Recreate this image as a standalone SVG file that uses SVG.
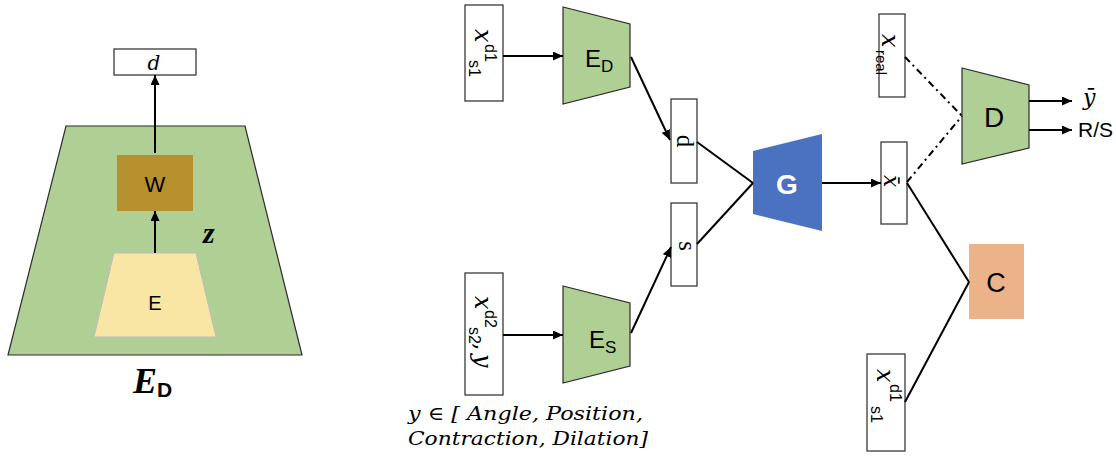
<svg xmlns="http://www.w3.org/2000/svg" width="1116" height="457" viewBox="0 0 1116 457">
  <style>
    .box { fill: #ffffff; stroke: #3a3a3a; stroke-width: 1.3; }
    .green { fill: #afcf95; stroke: #2b2b2b; stroke-width: 1.2; }
    .sans { font-family: "Liberation Sans", Arial, sans-serif; fill: #000; }
    .math { font-family: "DejaVu Serif", "Liberation Serif", serif; font-style: italic; fill: #000; }
    .sub { font-family: "Liberation Sans", Arial, sans-serif; font-style: normal; }
    .wire { stroke: #000; stroke-width: 2; fill: none; }
    .dashdot { stroke: #000; stroke-width: 2; fill: none; stroke-dasharray: 7 4 2 4; }
  </style>
  <defs>
    <marker id="arrow" markerUnits="userSpaceOnUse" markerWidth="10" markerHeight="9" refX="10" refY="4.5" orient="auto">
      <path d="M0,0 L10,4.5 L0,9 z" fill="#000"/>
    </marker>
  </defs>

  <rect width="1116" height="457" fill="#ffffff"/>

  <!-- Left: inner structure of the encoder E_D -->
  <g id="encoder-detail">
    <polygon points="66,126 245,126 302,355 8,355" class="green"/>
    <rect x="117" y="155" width="76" height="56" fill="#b8912f"/>
    <text x="155" y="192" text-anchor="middle" class="sans" font-size="22">W</text>
    <polygon points="114,253 196,253 216,337 94,337" fill="#fae6a4" stroke="#bdbdbd" stroke-width="1"/>
    <text x="155" y="310" text-anchor="middle" class="sans" font-size="20">E</text>
    <text x="203" y="243" font-family="Liberation Serif, serif" font-style="italic" font-weight="bold" font-size="30">z</text>
    <text x="133" y="393" font-family="Liberation Serif, serif" font-style="italic" font-weight="bold" font-size="36">E<tspan class="sans" font-style="normal" font-size="21" dy="4">D</tspan></text>
  </g>
  <g id="d-out">
    <rect x="114" y="49" width="82" height="26" class="box"/>
    <text x="154" y="70" text-anchor="middle" class="math" font-size="20">d</text>
  </g>

  <!-- Right: training pipeline -->
  <g id="x-s1-d1">
    <rect x="465" y="5" width="38" height="96" class="box"/>
    <text transform="translate(484,0) rotate(90)" class="math" font-size="24"><tspan x="29" y="9">x</tspan><tspan class="sub" font-size="16" x="44" y="-1">d1</tspan><tspan class="sub" font-size="16" x="60" y="15">s1</tspan></text>
  </g>
  <g id="x-s2-d2-y">
    <rect x="465" y="273" width="38" height="122" class="box"/>
    <text transform="translate(484,0) rotate(90)" class="math" font-size="24"><tspan x="296" y="9">x</tspan><tspan class="sub" font-size="16" x="310" y="-1">d2</tspan><tspan class="sub" font-size="16" x="327" y="15">s2</tspan><tspan x="343" y="9" font-style="normal">,</tspan><tspan x="354" y="9">y</tspan></text>
  </g>
  <g id="label-y">
    <text x="408" y="420" class="math" font-size="19" textLength="235" lengthAdjust="spacingAndGlyphs">y ∈ [ Angle, Position,</text>
    <text x="408" y="445" class="math" font-size="19" textLength="240" lengthAdjust="spacingAndGlyphs">Contraction, Dilation]</text>
  </g>
  <g id="enc-d">
    <polygon points="563,7 630,24 630,87 563,104" class="green"/>
    <text x="585" y="67" class="sans" font-size="24">E<tspan font-size="17" dy="5">D</tspan></text>
  </g>
  <g id="enc-s">
    <polygon points="563,286 630,303 630,366 563,383" class="green"/>
    <text x="589" y="348" class="sans" font-size="24">E<tspan font-size="17" dy="5">S</tspan></text>
  </g>
  <g id="d-code">
    <rect x="671" y="99" width="26" height="84" class="box"/>
    <text transform="translate(684,141) rotate(90)" text-anchor="middle" font-family="Liberation Serif, serif" font-size="25" y="7">d</text>
  </g>
  <g id="s-code">
    <rect x="671" y="203" width="26" height="83" class="box"/>
    <text transform="translate(684,246) rotate(90)" text-anchor="middle" font-family="Liberation Serif, serif" font-size="25" y="5">s</text>
  </g>
  <g id="generator">
    <polygon points="753,151 822,134 822,231 753,214" fill="#4a72c0"/>
    <text x="787" y="194" text-anchor="middle" font-family="Liberation Sans, Arial, sans-serif" font-weight="bold" font-size="28" fill="#ffffff">G</text>
  </g>
  <g id="x-bar">
    <rect x="881" y="142" width="26" height="82" class="box"/>
    <text transform="translate(894,0) rotate(90)" class="math" font-size="22"><tspan x="175" y="10">x</tspan><tspan x="175" y="11" font-style="normal">¯</tspan></text>
  </g>
  <g id="x-real">
    <rect x="879" y="14" width="26" height="83" class="box"/>
    <text transform="translate(892,0) rotate(90)" class="math" font-size="24"><tspan x="34" y="10">x</tspan><tspan class="sub" font-size="15" x="50" y="16">real</tspan></text>
  </g>
  <g id="discriminator">
    <polygon points="962,68 1029,85 1029,148 962,164" class="green"/>
    <text x="994" y="127" text-anchor="middle" class="sans" font-size="28">D</text>
    <text x="1083" y="105" font-family="DejaVu Serif, serif" font-style="italic" font-size="22">ȳ</text>
    <text x="1078" y="137" class="sans" font-size="21">R/S</text>
  </g>
  <g id="classifier">
    <rect x="969" y="244" width="55" height="75" fill="#ecb38a"/>
    <text x="996" y="292" text-anchor="middle" class="sans" font-size="27">C</text>
  </g>
  <g id="x-s1-d1-c">
    <rect x="867" y="354" width="38" height="97" class="box"/>
    <text transform="translate(886,0) rotate(90)" class="math" font-size="24"><tspan x="369" y="9">x</tspan><tspan class="sub" font-size="16" x="384" y="-4">d1</tspan><tspan class="sub" font-size="16" x="406" y="15">s1</tspan></text>
  </g>

  <g id="connectors">
    <line x1="155" y1="153" x2="155" y2="75" class="wire" marker-end="url(#arrow)"/>
    <line x1="155" y1="253" x2="155" y2="211" class="wire" marker-end="url(#arrow)"/>
    <line x1="503" y1="56" x2="563" y2="56" class="wire" marker-end="url(#arrow)"/>
    <line x1="503" y1="335" x2="563" y2="335" class="wire" marker-end="url(#arrow)"/>
    <line x1="631" y1="57" x2="670" y2="140" class="wire" marker-end="url(#arrow)"/>
    <line x1="631" y1="333" x2="671" y2="247" class="wire" marker-end="url(#arrow)"/>
    <line x1="697" y1="142" x2="753" y2="183" class="wire"/>
    <line x1="697" y1="244" x2="753" y2="183" class="wire"/>
    <line x1="822" y1="183" x2="881" y2="183" class="wire" marker-end="url(#arrow)"/>
    <line x1="905" y1="57" x2="962" y2="116" class="dashdot"/>
    <line x1="907" y1="182" x2="962" y2="116" class="dashdot"/>
    <line x1="1029" y1="101" x2="1072" y2="101" class="wire" marker-end="url(#arrow)"/>
    <line x1="1029" y1="130" x2="1072" y2="130" class="wire" marker-end="url(#arrow)"/>
    <line x1="907" y1="183" x2="969" y2="282" class="wire"/>
    <line x1="905" y1="402" x2="969" y2="282" class="wire"/>
  </g>
</svg>
